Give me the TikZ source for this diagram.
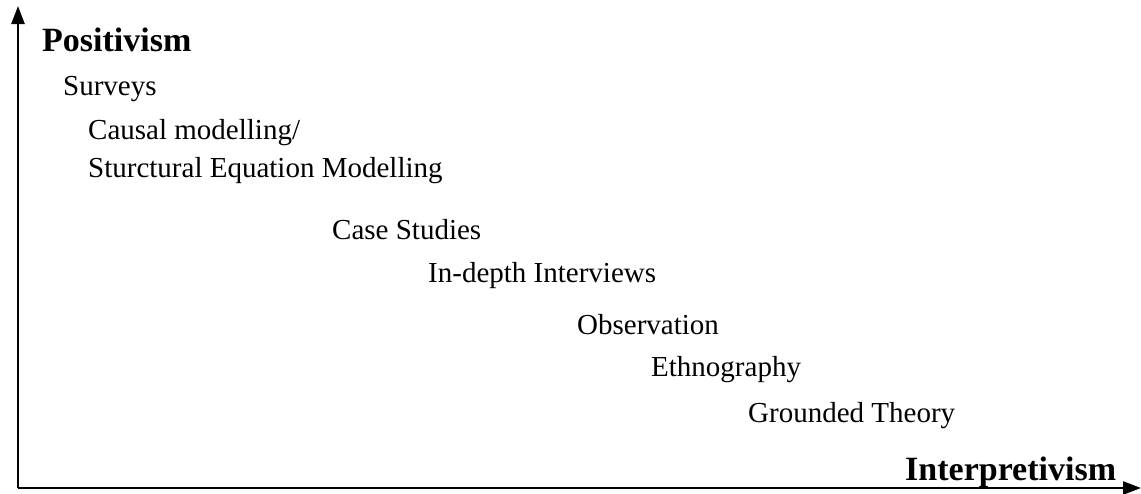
\documentclass[tikz,border=0pt]{standalone}
\usepackage{fontspec}
\setmainfont{Liberation Serif}
\usetikzlibrary{arrows.meta}
\tikzset{
  lbl/.style={anchor=base west, inner sep=0pt, font=\fontsize{29}{34}\selectfont},
  pole/.style={anchor=base west, inner sep=0pt, font=\fontsize{34}{40}\selectfont\bfseries},
  axis/.style={line width=2.4pt, -{Triangle[length=18pt,width=13pt]}}
}
\begin{document}
\begin{tikzpicture}[x=1pt,y=-1pt]
\useasboundingbox (0,0) rectangle (1141,493);
\coordinate (o) at (18,488);
\coordinate (ytop) at (18,6);
\coordinate (xend) at (1141,488);
\draw[axis] (o) -- (ytop);
\draw[axis] (o) -- (xend);
\node[pole] (pos) at (42,51) {Positivism};
\node[lbl] (surv) at (63,95) {Surveys};
\node[lbl] (causal) at (88,139) {Causal modelling/};
\node[lbl] (sem) at (88,177) {Sturctural Equation Modelling};
\node[lbl] (case) at (332,239) {Case Studies};
\node[lbl] (indepth) at (428,282) {In-depth Interviews};
\node[lbl] (obs) at (577,334) {Observation};
\node[lbl] (eth) at (651,376) {Ethnography};
\node[lbl] (gt) at (748,422) {Grounded Theory};
\node[pole] (interp) at (905,480) {Interpretivism};
\end{tikzpicture}
\end{document}
